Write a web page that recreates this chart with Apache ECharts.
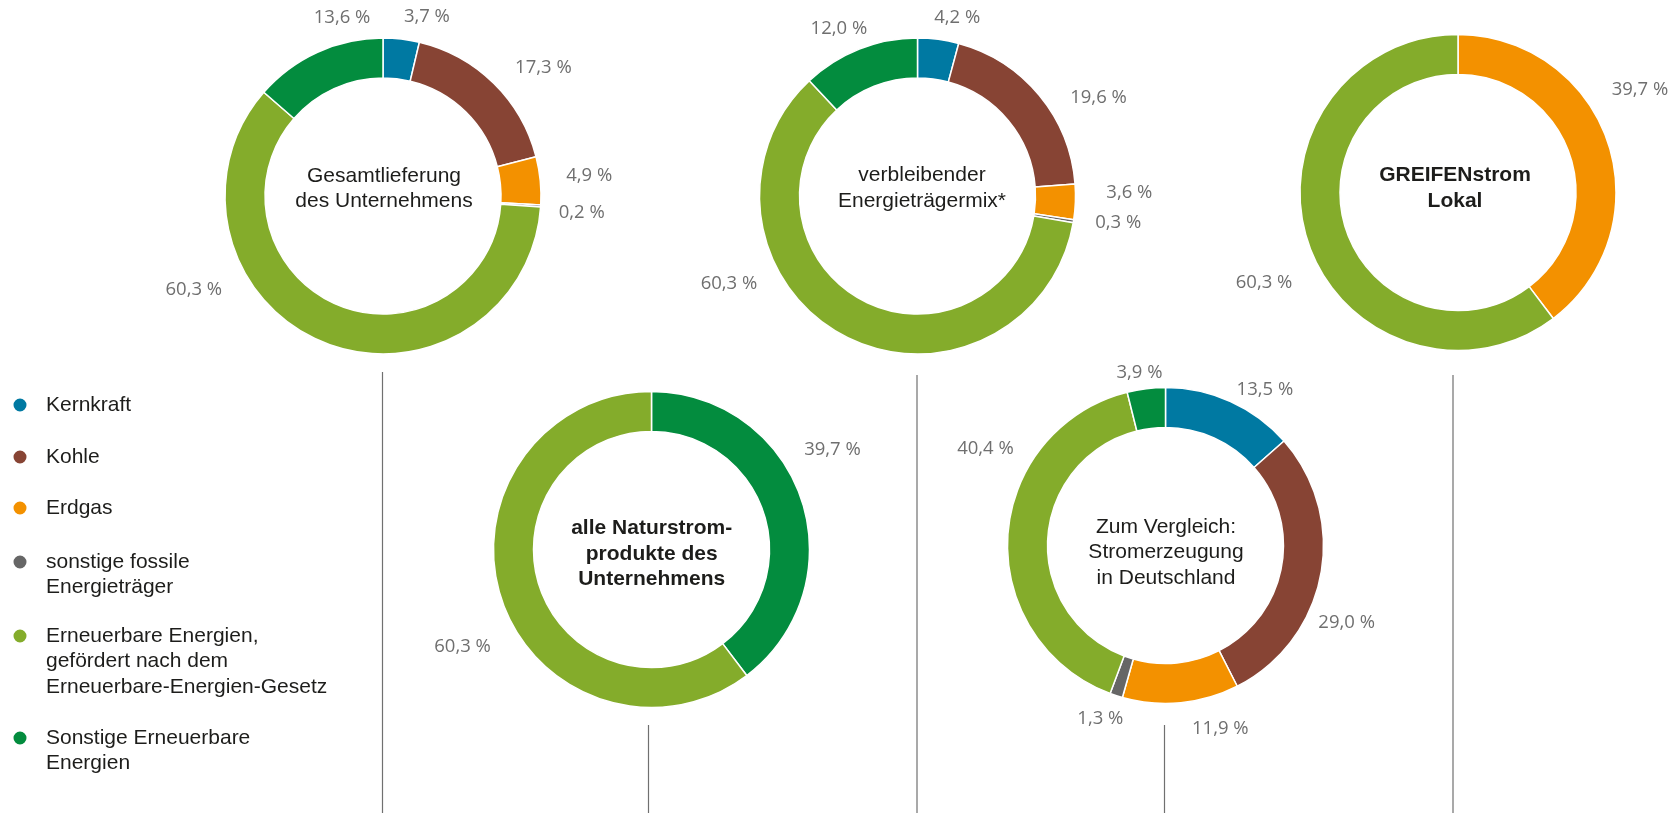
<!DOCTYPE html>
<html>
<head>
<meta charset="utf-8">
<script src="https://cdn.jsdelivr.net/npm/echarts@6/dist/echarts.min.js"></script>
<style>
html,body{margin:0;padding:0;background:#ffffff;}
#chart{width:1673px;height:813px;}
</style>
</head>
<body>
<div id="chart"></div>
<script>
// ---------- data ----------
const categories = [
  'Kernkraft',
  'Kohle',
  'Erdgas',
  'sonstige fossile\nEnergieträger',
  'Erneuerbare Energien,\ngefördert nach dem\nErneuerbare-Energien-Gesetz',
  'Sonstige Erneuerbare\nEnergien'
];
const gesamtCats = categories;
const gesamtValues = [3.7, 17.3, 4.9, 0.2, 60.3, 13.6];
const verbleibCats = categories;
const verbleibValues = [4.2, 19.6, 3.6, 0.3, 60.3, 12.0];
const greifenCats = [categories[2], categories[4]];
const greifenValues = [39.7, 60.3];
const naturCats = [categories[5], categories[4]];
const naturValues = [39.7, 60.3];
const deutschCats = categories;
const deutschValues = [13.5, 29.0, 11.9, 1.3, 40.4, 3.9];
const chartTitles = [
  'Gesamtlieferung\ndes Unternehmens',
  'verbleibender\nEnergieträgermix*',
  'GREIFENstrom\nLokal',
  'alle Naturstrom-\nprodukte des\nUnternehmens',
  'Zum Vergleich:\nStromerzeugung\nin Deutschland'
];

// ---------- styling / layout ----------
const colorOf = {};
['#0079a2', '#874434', '#f39100', '#666666', '#84ac2b', '#038c3e']
  .forEach((c, i) => { colorOf[categories[i]] = c; });

const FONT = '"Liberation Sans", Arial, Helvetica, sans-serif';
const LABEL_FONT = '"Open Sans", "Liberation Sans", sans-serif';

const pies = [
  { cats: gesamtCats,   vals: gesamtValues,   center: [383, 196],   text: [384, 188.5], bold: false, lh: 25.5,
    nudge: [[0,0],[6,0],[4,-3],[-4,5],[-92,-73],[62,-14]] },
  { cats: verbleibCats, vals: verbleibValues, center: [917.5, 196], text: [922, 188], bold: false, lh: 25.5,
    nudge: [[-7,0],[14,16],[9,-10],[0,-2],[-75,-71],[16,0]] },
  { cats: greifenCats,  vals: greifenValues,  center: [1458, 192.5], text: [1455, 188], bold: true, lh: 26,
    nudge: [[-17,-46],[5,33]] },
  { cats: naturCats,    vals: naturValues,    center: [651.5, 549.5], text: [651.7, 554], bold: true, lh: 25.5,
    nudge: [[-18,-43],[10,40]] },
  { cats: deutschCats,  vals: deutschValues,  center: [1165.5, 545.5], text: [1166, 552.7], bold: false, lh: 25.5,
    nudge: [[-3,8],[-24,44],[9,4],[14,2],[28,-87],[19,6]] }
];

const fmt = v => v.toFixed(1).replace('.', ',') + ' %';

const series = pies.map((p, si) => ({
  type: 'pie',
  name: chartTitles[si].replace(/\n/g, ' '),
  center: p.center,
  radius: [118, 158],
  startAngle: 90,
  clockwise: true,
  avoidLabelOverlap: false,
  animation: false,
  emphasis: { scale: false },
  itemStyle: { borderColor: '#ffffff', borderWidth: 1.5 },
  label: {
    show: true,
    position: 'outside',
    distanceToLabelLine: 0,
    color: '#6f6f6f',
    fontFamily: LABEL_FONT,
    fontSize: 18.5,
    overflow: 'none',
    formatter: prm => fmt(prm.value)
  },
  labelLine: { show: false, length: 22, length2: 0 },
  labelLayout: prm => {
    const n = p.nudge[prm.dataIndex] || [0, 0];
    return { dx: n[0], dy: n[1] };
  },
  data: p.cats.map((c, i) => ({ name: c, value: p.vals[i], itemStyle: { color: colorOf[c] } }))
}));

// legend: one component per entry; leading blank lines keep the dot on the first text line
const LEG_LH = 25.5;
const legendDotY = [405, 457, 508, 562, 636, 738];
const legends = categories.map((c, i) => {
  const lines = c.split('\n').length;
  const totalLines = 2 * lines - 1;
  return {
    orient: 'vertical',
    left: 11.5,
    top: legendDotY[i] - totalLines * LEG_LH / 2,
    padding: 0,
    itemWidth: 15,
    itemHeight: 15,
    icon: 'circle',
    formatter: name => '\n'.repeat(lines - 1) + name,
    textStyle: { fontFamily: FONT, fontSize: 21, color: '#1d1d1b', lineHeight: LEG_LH, padding: [0, 0, 0, 13.5] },
    data: [c]
  };
});

// centre captions and divider lines
const graphics = [];
pies.forEach((p, i) => {
  graphics.push({
    type: 'text', x: p.text[0], y: p.text[1], silent: true,
    style: {
      text: chartTitles[i], textAlign: 'center', textVerticalAlign: 'middle',
      font: (p.bold ? 'bold ' : '') + '21px ' + FONT, lineHeight: p.lh, fill: '#1d1d1b'
    }
  });
});
[[382.5, 372], [917, 375], [1453, 375], [648.5, 725], [1164.5, 725]].forEach(d => {
  graphics.push({
    type: 'line', silent: true,
    shape: { x1: d[0], y1: d[1], x2: d[0], y2: 813 },
    style: { stroke: '#707070', lineWidth: 1.2 }
  });
});

const chart = echarts.init(document.getElementById('chart'), null, { renderer: 'canvas' });
chart.setOption({
  backgroundColor: '#ffffff',
  animation: false,
  legend: legends,
  series: series,
  graphic: graphics
});
</script>
</body>
</html>
